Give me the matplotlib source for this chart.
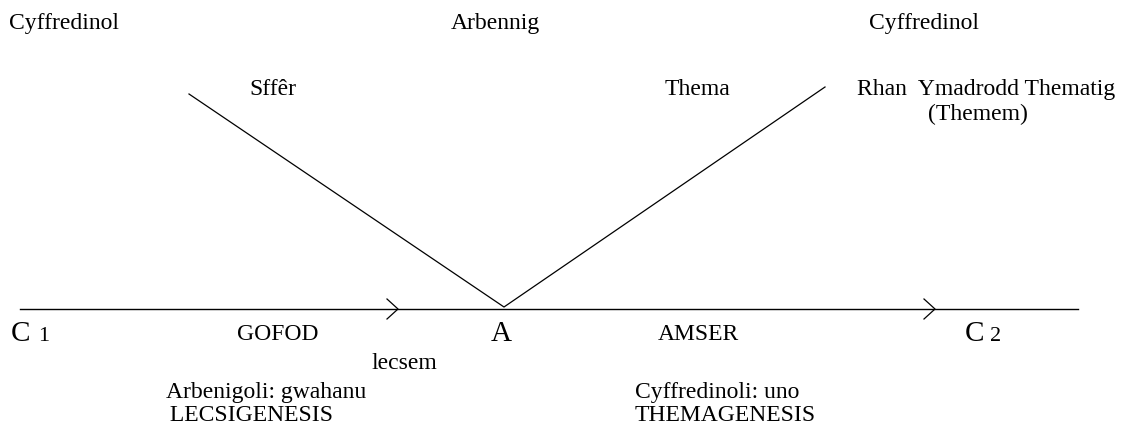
import matplotlib
matplotlib.use("Agg")
import matplotlib.pyplot as plt

plt.rcParams['font.family'] = ['Liberation Serif', 'DejaVu Serif']

# Diagram geometry (pixel space, y downward)
axis_line_x = [20, 1078]
axis_line_y = [309, 309]
v_x = [189, 504, 825]
v_y = [94, 307, 87]
arrow_tips_x = [398, 935]

# Text labels: (text, x_left, y_baseline, fontsize)
labels = [
    ("Cyffredinol", 9, 29, 17),
    ("Arbennig", 451, 29, 17),
    ("Cyffredinol", 869, 29, 17),
    ("Sffêr", 249, 95, 17),
    ("Thema", 665, 95, 17),
    ("Rhan  Ymadrodd Thematig", 857, 95, 17),
    ("(Themem)", 928, 120, 17),
    ("GOFOD", 237, 340, 17),
    ("AMSER", 658, 340, 17),
    ("lecsem", 371, 369, 17),
    ("Arbenigoli: gwahanu", 166, 398, 17),
    (" LECSIGENESIS", 164, 421, 17),
    ("Cyffredinoli: uno", 635, 398, 17),
    ("THEMAGENESIS", 635, 421, 17),
]
big_labels = [
    ("C", 11, 341, 21),
    ("A", 491, 341, 21),
    ("C", 965, 341, 21),
]
sub_labels = [
    ("1", 38, 341, 16),
    ("2", 990, 341, 16),
]

W, H = 1125, 428
fig = plt.figure(figsize=(W / 100, H / 100), dpi=100)
ax = fig.add_axes([0, 0, 1, 1])
ax.set_xlim(0, W)
ax.set_ylim(H, 0)
ax.axis('off')

ax.plot(axis_line_x, axis_line_y, color='black', lw=1.0)
ax.plot(v_x, v_y, color='black', lw=0.9)
for tx in arrow_tips_x:
    ax.plot([tx - 11, tx, tx - 11], [axis_line_y[0] - 10, axis_line_y[0], axis_line_y[0] + 10],
            color='black', lw=0.9)

for group in (labels, big_labels, sub_labels):
    for txt, x, y, fs in group:
        ax.text(x, y, txt, fontsize=fs, ha='left', va='baseline', color='black')

fig.savefig("out.png", dpi=100)
